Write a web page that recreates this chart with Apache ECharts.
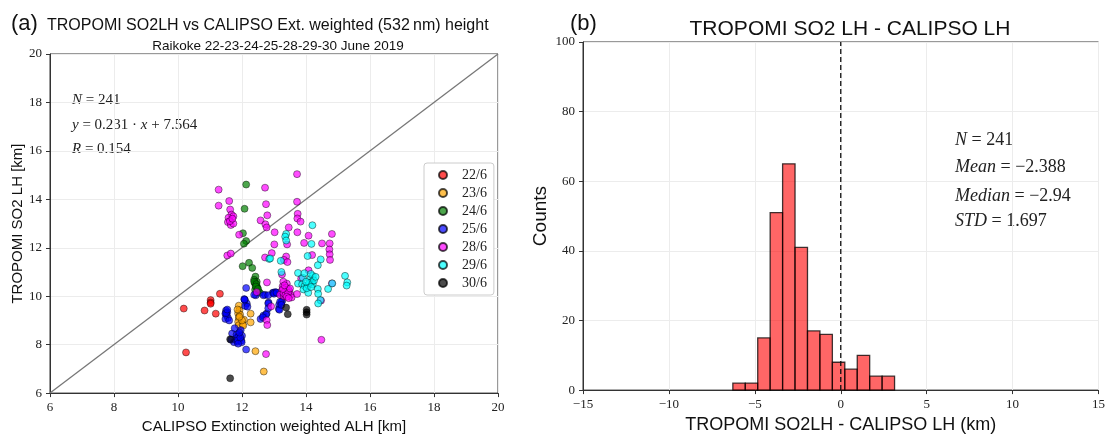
<!DOCTYPE html>
<html><head><meta charset="utf-8">
<script src="https://cdn.jsdelivr.net/npm/echarts@6/dist/echarts.min.js"></script>
<style>html,body{margin:0;padding:0;background:#fff}#c{width:1108px;height:439px}</style>
</head><body><div id="c"></div>
<script>
// ---------- data ----------
const dayLabels = ['22/6','23/6','24/6','25/6','28/6','29/6','30/6'];
const dayColors = ['#ff0000','#ffa500','#008000','#0000ff','#ff00ff','#00ffff','#000000'];

const d22 = [[11.31,10.1],[11.02,9.84],[11.02,9.74],[11.02,9.69],[10.18,9.49],[10.83,9.41],[11.18,9.28],[10.25,7.68]];
const d23 = [[11.9,9.61],[11.92,9.42],[11.88,9.29],[11.94,9.24],[11.9,9.1],[11.88,8.94],[12.06,9.03],[12.27,9.28],[12.27,8.92],[11.9,8.8],[12.02,8.84],[12.04,8.79],[12.0,9.0],[12.42,7.73],[12.68,6.89],[11.86,9.45],[11.92,9.15]];
const d24 = [[12.13,14.61],[12.08,13.61],[12.03,12.6],[12.13,12.28],[12.06,12.17],[12.22,11.38],[12.02,11.24],[12.32,11.17],[12.42,10.81],[12.38,10.68],[12.46,10.6],[12.4,10.54],[12.44,10.44],[12.48,10.36],[12.38,10.6],[12.46,10.36],[12.41,10.27],[12.51,10.2],[12.56,10.14],[12.45,10.5],[12.43,10.4],[12.5,10.3]];
const d25 = [[12.13,10.34],[12.09,9.84],[12.15,9.7],[12.1,9.6],[12.17,9.57],[12.07,9.88],[11.5,9.41],[11.54,9.34],[11.48,9.28],[11.52,9.21],[11.56,9.1],[11.48,9.06],[11.6,9.0],[11.5,9.3],[11.54,9.45],[11.96,8.6],[11.9,8.44],[12.0,8.37],[11.83,8.28],[11.94,8.24],[11.98,8.17],[11.85,8.12],[11.75,8.1],[11.69,8.46],[11.77,8.68],[11.83,8.41],[11.88,8.31],[11.86,8.17],[11.66,8.2],[11.99,8.1],[11.88,8.04],[11.95,8.3],[11.92,8.5],[12.13,7.8],[12.58,9.06],[12.67,9.2],[12.77,9.29],[12.72,10.06],[12.96,10.14],[13.04,10.17],[12.83,9.74],[13.16,9.65],[13.15,9.47],[13.25,9.8],[12.98,10.14],[12.67,10.04],[12.82,10.04],[12.43,10.04],[12.08,9.86],[12.82,9.7],[13.24,9.76],[13.17,9.44],[12.75,9.24],[12.65,9.13],[12.82,9.5],[13.11,10.13],[13.24,10.1],[13.19,9.77],[13.23,9.64],[12.38,10.06],[13.0,10.1],[13.08,10.15]];
const d28 = [[11.27,14.4],[11.6,13.93],[11.27,13.74],[11.63,13.58],[11.67,13.37],[11.58,13.24],[11.73,13.3],[11.56,13.06],[11.65,12.94],[11.73,13.0],[11.62,13.1],[11.7,13.2],[11.91,12.54],[11.54,11.68],[11.65,11.76],[12.72,14.48],[12.75,13.8],[12.79,13.34],[12.58,13.13],[12.73,12.97],[12.77,12.84],[12.72,11.6],[12.78,10.57],[12.77,9.01],[12.79,8.81],[12.75,7.61],[13.72,15.04],[13.72,13.9],[13.74,13.4],[13.73,13.21],[13.83,13.08],[13.02,12.64],[13.46,12.84],[13.73,12.64],[14.08,12.5],[14.81,12.57],[13.01,12.14],[13.41,12.14],[13.94,12.2],[14.5,12.18],[14.74,12.18],[12.93,11.78],[13.38,11.64],[13.31,11.5],[13.42,11.41],[14.19,11.7],[14.73,11.93],[14.74,11.73],[14.75,11.5],[13.27,10.41],[13.35,10.3],[13.25,10.24],[13.34,10.17],[13.42,10.09],[13.48,10.2],[13.52,10.06],[13.19,10.06],[13.31,10.0],[13.55,9.95],[13.4,10.52],[13.29,10.6],[12.91,9.58],[13.72,10.09],[14.08,11.07],[13.85,10.73],[13.25,10.9],[14.47,9.82],[14.81,10.53],[14.48,8.2],[12.46,10.17],[13.38,10.35],[13.45,10.28],[13.3,10.12],[13.36,10.05],[13.44,10.14],[13.4,9.98],[13.28,10.3],[13.5,10.32],[13.33,10.45],[13.46,9.92]];
const d29 = [[12.85,11.54],[14.2,12.93],[13.38,12.57],[13.35,12.46],[13.38,12.3],[14.17,12.16],[14.05,11.66],[14.46,11.52],[14.37,11.28],[12.88,11.56],[13.21,11.46],[13.23,11.0],[15.22,10.84],[15.29,10.57],[13.75,10.96],[13.9,10.76],[13.75,10.52],[13.88,10.49],[13.96,10.42],[13.92,10.28],[14.07,10.14],[14.21,10.84],[14.13,10.71],[14.19,10.6],[14.07,10.46],[14.21,10.49],[14.02,10.33],[14.15,10.92],[14.37,10.3],[14.38,10.1],[14.69,10.3],[14.82,10.53],[15.27,10.44],[14.45,9.84],[14.38,9.7],[14.1,10.55],[14.25,10.65],[14.0,10.6],[14.16,10.38],[13.95,10.95],[14.3,10.8]];
const d30 = [[11.63,8.22],[11.63,6.61],[13.38,9.53],[13.43,9.26],[14.02,9.44],[14.02,9.34],[14.02,9.24]];
const dayData = [d22,d23,d24,d25,d28,d29,d30];

const scatterTicks = [6,8,10,12,14,16,18,20];
const oneToOne = [[6,6],[20,20]];

// histogram: bin edges and counts
const binEdges = [-6.28,-5.556,-4.832,-4.108,-3.384,-2.66,-1.936,-1.212,-0.488,0.236,0.96,1.684,2.408,3.132];
const binCounts = [2,2,15,51,65,41,17,16,8,6,10,4,4];
const histXTicks = [-15,-10,-5,0,5,10,15];
const histYTicks = [0,20,40,60,80,100];

// ---------- chart ----------
const serif = '"Liberation Serif","DejaVu Serif",serif';
const sans = '"Liberation Sans","DejaVu Sans",sans-serif';
const minus = v => String(v).replace('-', '\u2212');

const histData = binCounts.map((c,i)=>[binEdges[i], binEdges[i+1], c]);

const axisCommon = {
  axisLine:{show:true, onZero:false, lineStyle:{color:'#333', width:1}},
  axisTick:{show:true, length:4, lineStyle:{color:'#333'}},
  splitLine:{show:true, lineStyle:{color:'#ececec', width:1}},
  axisLabel:{fontFamily:serif, fontSize:13, color:'#222', formatter:minus}
};
const rich = sz => ({i:{fontStyle:'italic', fontFamily:serif, fontSize:sz}});

const chart = echarts.init(document.getElementById('c'), null, {renderer:'canvas'});
const option = {
  animation:false,
  backgroundColor:'#fff',
  grid:[
    {left:50, top:54, width:448, height:350, show:true, borderColor:'#333', borderWidth:1, backgroundColor:'transparent'},
    {left:583, top:42, width:519, height:353, show:true, borderColor:'#333', borderWidth:1, backgroundColor:'transparent'}
  ],
  title:[
    {text:'(a)', left:6, top:8, textStyle:{fontFamily:sans, fontSize:22, fontWeight:'normal', color:'#111'}},
    {text:'TROPOMI SO2LH vs CALIPSO Ext. weighted (532\u2009nm) height', left:42, top:13, textStyle:{fontFamily:sans, fontSize:16, fontWeight:'normal', color:'#111'}},
    {text:'Raikoke 22-23-24-25-28-29-30 June 2019', left:273, top:34, textAlign:'center', textStyle:{fontFamily:sans, fontSize:13.5, fontWeight:'normal', color:'#111'}},
    {text:'(b)', left:565, top:8, textStyle:{fontFamily:sans, fontSize:22, fontWeight:'normal', color:'#111'}},
    {text:'TROPOMI SO2 LH - CALIPSO LH', left:845, top:14, textAlign:'center', textStyle:{fontFamily:sans, fontSize:21, fontWeight:'normal', color:'#111'}}
  ],
  legend:{
    data:dayLabels, orient:'vertical', left:424, top:163,
    icon:'circle', itemWidth:8, itemHeight:8, itemGap:4,
    padding:[5,7,5,14], backgroundColor:'#fff', borderColor:'#ccc', borderWidth:1, borderRadius:3,
    textStyle:{fontFamily:serif, fontSize:14, color:'#222', padding:[0,0,0,10], lineHeight:13}
  },
  xAxis:[
    Object.assign({}, axisCommon, {type:'value', gridIndex:0, min:6, max:20, interval:2,
      name:'CALIPSO Extinction weighted ALH [km]', nameLocation:'middle', nameGap:20,
      nameTextStyle:{fontFamily:sans, fontSize:15, color:'#111'}}),
    Object.assign({}, axisCommon, {type:'value', gridIndex:1, min:-15, max:15, interval:5,
      name:'TROPOMI SO2LH - CALIPSO LH (km)', nameLocation:'middle', nameGap:22,
      nameTextStyle:{fontFamily:sans, fontSize:18, color:'#111'}})
  ],
  yAxis:[
    Object.assign({}, axisCommon, {type:'value', gridIndex:0, min:6, max:20, interval:2,
      name:'TROPOMI SO2 LH [km]', nameLocation:'middle', nameGap:24,
      nameTextStyle:{fontFamily:sans, fontSize:15, color:'#111'}}),
    Object.assign({}, axisCommon, {type:'value', gridIndex:1, min:0, max:100, interval:20,
      name:'Counts', nameLocation:'middle', nameGap:33,
      nameTextStyle:{fontFamily:sans, fontSize:19, color:'#111'}})
  ],
  series:[
    {type:'line', xAxisIndex:0, yAxisIndex:0, data:oneToOne, symbol:'none', silent:true,
     lineStyle:{color:'#777', width:1.3}, z:1},
    ...dayData.map((d,i)=>({
      name:dayLabels[i], type:'scatter', xAxisIndex:0, yAxisIndex:0, data:d,
      symbol:'circle', symbolSize:7,
      itemStyle:{color:dayColors[i], opacity:0.7, borderColor:'#000', borderWidth:0.6}, z:3
    })),
    {type:'custom', xAxisIndex:1, yAxisIndex:1, data:histData, z:3,
     encode:{x:[0,1], y:2},
     renderItem:(params, api)=>{
       const p0 = api.coord([api.value(0), 0]);
       const p1 = api.coord([api.value(1), api.value(2)]);
       return {type:'rect', shape:{x:p0[0], y:p1[1], width:p1[0]-p0[0], height:p0[1]-p1[1]},
         style:{fill:'rgba(255,0,0,0.6)', stroke:'rgba(0,0,0,0.75)', lineWidth:1.3}};
     }},
    {type:'line', xAxisIndex:1, yAxisIndex:1, data:[[0,0],[0,100]], symbol:'none', silent:true,
     lineStyle:{color:'#111', width:1.3, type:[5,3]}, z:4}
  ],
  graphic:[
    {type:'text', left:72, top:93, style:{text:'{i|N} = 241', rich:rich(15), fontFamily:serif, fontSize:15, fill:'#222'}},
    {type:'text', left:72, top:118, style:{text:'{i|y} = 0.231 \u00b7 {i|x} + 7.564', rich:rich(15), fontFamily:serif, fontSize:15, fill:'#222'}},
    {type:'text', left:72, top:142, style:{text:'{i|R} = 0.154', rich:rich(15), fontFamily:serif, fontSize:15, fill:'#222'}},
    {type:'text', left:955, top:131, style:{text:'{i|N} = 241', rich:rich(18), fontFamily:serif, fontSize:18, fill:'#222'}},
    {type:'text', left:955, top:158, style:{text:'{i|Mean} = \u22122.388', rich:rich(18), fontFamily:serif, fontSize:18, fill:'#222'}},
    {type:'text', left:955, top:187, style:{text:'{i|Median} = \u22122.94', rich:rich(18), fontFamily:serif, fontSize:18, fill:'#222'}},
    {type:'text', left:955, top:212, style:{text:'{i|STD} = 1.697', rich:rich(18), fontFamily:serif, fontSize:18, fill:'#222'}}
  ]
};
chart.setOption(option);
</script></body></html>
